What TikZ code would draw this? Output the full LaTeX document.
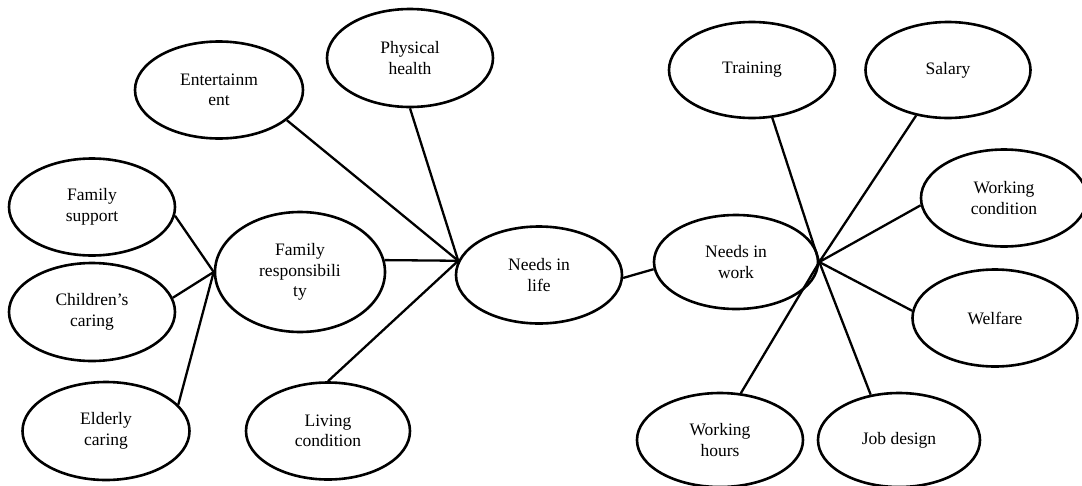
\documentclass[tikz,border=0pt]{standalone}
\usepackage{fontspec}
\setmainfont{Liberation Serif}
\usetikzlibrary{shapes.geometric}
\begin{document}
\begin{tikzpicture}[x=1pt,y=-1pt,
  bubble/.style={ellipse, draw, line width=2.6pt, inner sep=0pt, align=center,
    font=\fontsize{17.5}{20.5}\selectfont},
  link/.style={line width=2.3pt}]
\useasboundingbox (0,0) rectangle (1082,485);

% life side
\node[bubble, minimum width=168pt, minimum height=97pt] (ent)   at (219,90)   {Entertainm\\ent};
\node[bubble, minimum width=166pt, minimum height=98pt] (phys)  at (410,58)   {Physical\\health};
\node[bubble, minimum width=166pt, minimum height=97pt] (fsup)  at (92,207)   {Family\\support};
\node[bubble, minimum width=170pt, minimum height=120pt] (fresp) at (300,272)  {Family\\responsibili\\ty};
\node[bubble, minimum width=166pt, minimum height=98pt] (child) at (92,312)   {Children’s\\caring};
\node[bubble, minimum width=167pt, minimum height=98pt] (eld)   at (106,431)  {Elderly\\caring};
\node[bubble, minimum width=164pt, minimum height=97pt] (liv)   at (328,431)  {Living\\condition};
\node[bubble, minimum width=166pt, minimum height=97pt] (life)  at (539,275)  {Needs in\\life};

% work side
\node[bubble, minimum width=164pt, minimum height=94pt] (work)  at (736,262)  {Needs in\\work};
\node[bubble, minimum width=166pt, minimum height=96pt] (train) at (752,70)   {Training};
\node[bubble, minimum width=165pt, minimum height=96pt] (sal)   at (948,70)   {Salary};
\node[bubble, minimum width=166pt, minimum height=97pt] (wcond) at (1004,198) {Working\\condition};
\node[bubble, minimum width=165pt, minimum height=97pt] (welf)  at (995,318)  {Welfare};
\node[bubble, minimum width=166pt, minimum height=94pt] (whours) at (720,440) {Working\\hours};
\node[bubble, minimum width=162pt, minimum height=94pt] (job)   at (899,440)  {Job design};

% meeting points of the spokes
\coordinate (hubL) at (life.170);
\coordinate (hubF) at (fresp.west);
\coordinate (hubW) at (work.east);

% spokes into "Needs in life"
\draw[link] (ent.-24)  -- (hubL);
\draw[link] (phys.south) -- (hubL);
\draw[link] (fresp.8)  -- (hubL);
\draw[link] (liv.north) -- (hubL);

% spokes into "Family responsibility"
\draw[link] (fsup.-6)  -- (hubF);
\draw[link] (child.10) -- (hubF);
\draw[link] (eld.20)   -- (hubF);

% life to work
\draw[link] (life.-2) -- (work.185);

% spokes out of "Needs in work"
\draw[link] (train.-67)  -- (hubW);
\draw[link] (sal.-125)   -- (hubW);
\draw[link] (wcond.185)  -- (hubW);
\draw[link] (welf.175)   -- (hubW);
\draw[link] (job.122)    -- (hubW);
\draw[link] (whours.66)  -- (hubW);
\end{tikzpicture}
\end{document}
